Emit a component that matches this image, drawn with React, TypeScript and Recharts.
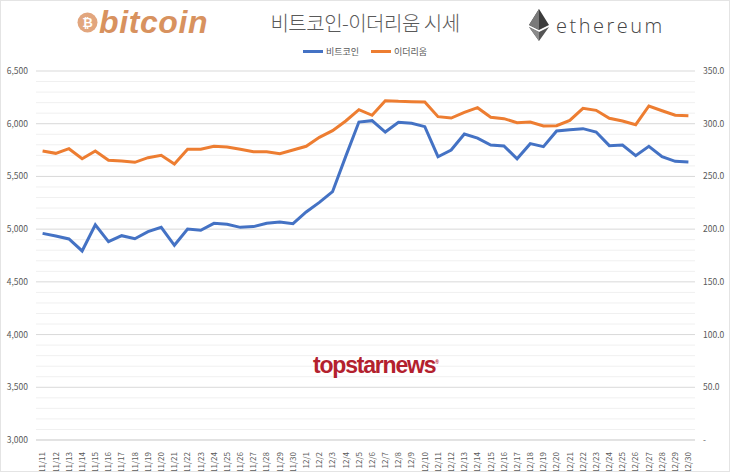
import React from 'react';
import { LineChart, Line, XAxis, YAxis, CartesianGrid, ReferenceLine } from 'recharts';

const dates = [
  '11/11', '11/12', '11/13', '11/14', '11/15', '11/16', '11/17', '11/18', '11/19', '11/20',
  '11/21', '11/22', '11/23', '11/24', '11/25', '11/26', '11/27', '11/28', '11/29', '11/30',
  '12/1', '12/2', '12/3', '12/4', '12/5', '12/6', '12/7', '12/8', '12/9', '12/10',
  '12/11', '12/12', '12/13', '12/14', '12/15', '12/16', '12/17', '12/18', '12/19', '12/20',
  '12/21', '12/22', '12/23', '12/24', '12/25', '12/26', '12/27', '12/28', '12/29', '12/30',
];

// 비트코인 (left axis)
const btc = [
  4960, 4935, 4907, 4793, 5042, 4881, 4938, 4909, 4976, 5017,
  4847, 5001, 4989, 5055, 5046, 5017, 5024, 5055, 5068, 5052,
  5163, 5254, 5355, 5690, 6016, 6029, 5921, 6013, 6004, 5972,
  5687, 5751, 5902, 5864, 5798, 5789, 5668, 5811, 5782, 5931,
  5943, 5953, 5921, 5792, 5798, 5697, 5786, 5687, 5643, 5637,
];

// 이더리움 (right axis)
const eth = [
  274.1, 271.9, 276.3, 266.8, 274.1, 265.3, 264.6, 263.4, 267.8, 270.0,
  261.8, 275.7, 275.7, 278.6, 277.9, 275.7, 273.5, 273.5, 271.6, 275.1,
  278.6, 287.1, 293.4, 302.6, 313.3, 308.0, 321.8, 321.2, 320.9, 320.6,
  306.7, 305.4, 310.8, 315.2, 306.1, 304.8, 301.0, 301.6, 297.8, 298.1,
  303.2, 314.6, 312.7, 305.1, 302.6, 299.1, 316.8, 312.3, 308.0, 307.6,
];

const leftTicks = [3000, 3500, 4000, 4500, 5000, 5500, 6000, 6500];
const rightTicks = [0, 50, 100, 150, 200, 250, 300, 350];
const minorLines = [
  3100, 3200, 3300, 3400, 3600, 3700, 3800, 3900, 4100, 4200, 4300, 4400,
  4600, 4700, 4800, 4900, 5100, 5200, 5300, 5400, 5600, 5700, 5800, 5900,
  6100, 6200, 6300, 6400,
];

const data = dates.map((d, i) => ({ date: d, btc: btc[i], eth: eth[i] }));

const FONT = '"Noto Sans CJK KR", "Noto Sans", sans-serif';
const AXIS_COLOR = '#595959';

const DateTick = (props: any) => {
  const { x, y, payload } = props;
  return (
    <text
      x={x}
      y={y + 4}
      dy="0.35em"
      textAnchor="end"
      transform={`rotate(-90, ${x}, ${y + 4})`}
      fontSize={8}
      fill={AXIS_COLOR}
      fontFamily={FONT}
    >
      {payload.value}
    </text>
  );
};

const App = () => {
  return (
    <div style={{ position: 'absolute', left: 0, top: 0, width: 730, height: 472, background: '#fff', overflow: 'hidden' }}>
      {/* bitcoin logo */}
      <div style={{ position: 'absolute', left: 77, top: 4, display: 'flex', alignItems: 'center' }}>
        <svg width={21} height={21}>
          <circle cx={10.5} cy={10.5} r={10} fill="#E2A67E" />
          <text x={10.5} y={15} textAnchor="middle" fontSize={13} fontWeight={700} fill="#fff" fontFamily="Liberation Sans, sans-serif">₿</text>
        </svg>
        <span style={{ marginLeft: 1, fontFamily: '"Liberation Sans", Arial, sans-serif', fontStyle: 'italic', fontWeight: 700, fontSize: 32, color: '#D8925F', letterSpacing: 0.6, lineHeight: '36px' }}>
          bitcoin
        </span>
      </div>

      {/* title */}
      <div style={{ position: 'absolute', left: 0, width: 730, top: 8, textAlign: 'center', fontFamily: FONT, fontSize: 20, fontWeight: 300, color: '#595959', letterSpacing: -0.5 }}>
        비트코인-이더리움 시세
      </div>

      {/* ethereum logo */}
      <div style={{ position: 'absolute', left: 528, top: 8, display: 'flex', alignItems: 'center' }}>
        <svg width={22} height={34}>
          <polygon points="11,1 21,17 11,22 1,17" fill="#3c3c3c" />
          <polygon points="11,1 11,22 1,17" fill="#7a7a7a" />
          <polygon points="1,19 11,24 21,19 11,33" fill="#555" />
          <polygon points="1,19 11,24 11,33" fill="#8a8a8a" />
        </svg>
        <span style={{ marginLeft: 6, fontFamily: '"Open Sans", sans-serif', fontWeight: 300, fontSize: 20, color: '#444', letterSpacing: 2.5 }}>
          ethereum
        </span>
      </div>

      {/* legend */}
      <div style={{ position: 'absolute', left: 0, width: 730, top: 45, display: 'flex', justifyContent: 'center', gap: 12, fontSize: 9, color: AXIS_COLOR, fontFamily: FONT }}>
        <span style={{ display: 'flex', alignItems: 'center', gap: 3 }}>
          <span style={{ width: 20, height: 3, background: '#4472C4', display: 'inline-block' }} />
          비트코인
        </span>
        <span style={{ display: 'flex', alignItems: 'center', gap: 3 }}>
          <span style={{ width: 20, height: 3, background: '#ED7D31', display: 'inline-block' }} />
          이더리움
        </span>
      </div>

      <LineChart width={730} height={472} data={data} margin={{ top: 71, right: 0, bottom: 0, left: 0 }}>
        {minorLines.map((v) => (
          <ReferenceLine key={v} yAxisId="left" y={v} stroke="#f0f0f0" strokeWidth={1} />
        ))}
        <CartesianGrid yAxisId="left" vertical={false} stroke="#d9d9d9" />
        <XAxis
          dataKey="date"
          scale="band"
          interval={0}
          height={32}
          tick={<DateTick />}
          tickLine={false}
          axisLine={{ stroke: '#d9d9d9' }}
        />
        <YAxis
          yAxisId="left"
          width={36}
          domain={[3000, 6500]}
          ticks={leftTicks}
          tickFormatter={(v: number) => v.toLocaleString('en-US')}
          tick={{ fontSize: 8.5, fill: AXIS_COLOR, fontFamily: FONT }}
          axisLine={false}
          tickLine={false}
          tickMargin={2}
        />
        <YAxis
          yAxisId="right"
          orientation="right"
          width={35}
          domain={[0, 350]}
          ticks={rightTicks}
          tickFormatter={(v: number) => (v === 0 ? '-' : v.toFixed(1))}
          tick={{ fontSize: 8.5, fill: AXIS_COLOR, fontFamily: FONT }}
          axisLine={false}
          tickLine={false}
          tickMargin={2}
        />
        <Line yAxisId="left" type="linear" dataKey="btc" name="비트코인" stroke="#4472C4" strokeWidth={3} dot={false} isAnimationActive={false} />
        <Line yAxisId="right" type="linear" dataKey="eth" name="이더리움" stroke="#ED7D31" strokeWidth={3} dot={false} isAnimationActive={false} />
      </LineChart>

      {/* watermark */}
      <div style={{ position: 'absolute', left: 0, width: 752, top: 352, textAlign: 'center', fontFamily: '"Liberation Sans", Arial, sans-serif', fontWeight: 700, fontSize: 23, color: '#B3212E', letterSpacing: -1.2 }}>
        topstarnews<sup style={{ fontSize: 5, letterSpacing: 0 }}>®</sup>
      </div>

      {/* outer frame */}
      <div style={{ position: 'absolute', left: 0, top: 0, width: 730, height: 472, boxSizing: 'border-box', border: '1px solid #e4e4e4', pointerEvents: 'none' }} />
    </div>
  );
};

export default App;
